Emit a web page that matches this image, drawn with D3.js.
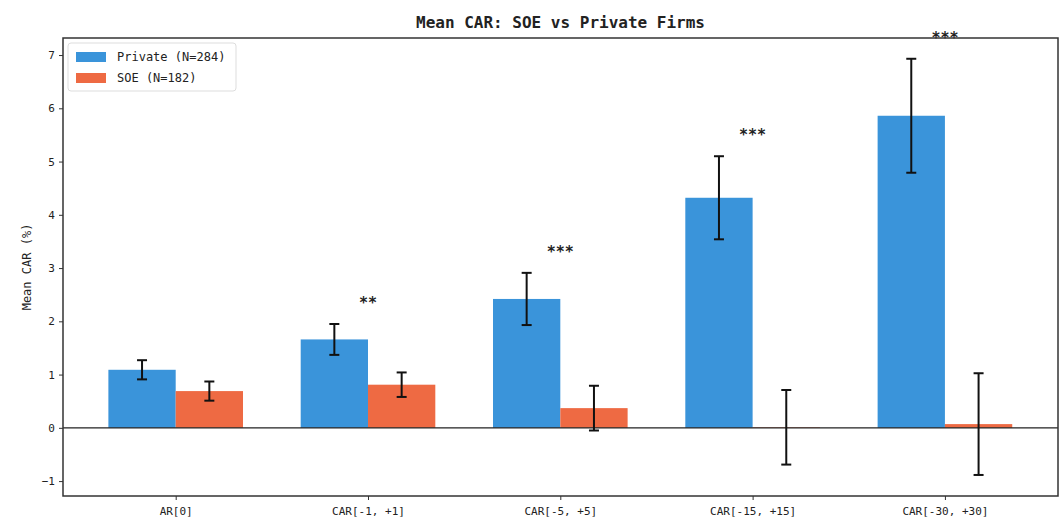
<!DOCTYPE html>
<html>
<head>
<meta charset="utf-8">
<script src="https://cdn.jsdelivr.net/npm/d3@7"></script>
<style>
  html, body { margin: 0; padding: 0; background: #fff; }
  svg text { font-family: "DejaVu Sans Mono", "Liberation Mono", monospace; fill: #222; }
</style>
</head>
<body>
<svg id="chart" width="1061" height="524"></svg>
<script>
// Event windows
const windows = ["AR[0]", "CAR[-1, +1]", "CAR[-5, +5]", "CAR[-15, +15]", "CAR[-30, +30]"];
// Mean CAR (%) and error half-widths per group
const privateMean = [1.09, 1.66, 2.42, 4.32, 5.86];
const privateErr  = [0.18, 0.29, 0.49, 0.78, 1.07];
const soeMean     = [0.69, 0.81, 0.37, 0.01, 0.07];
const soeErr      = [0.18, 0.23, 0.42, 0.70, 0.955];
// Significance of the difference
const stars       = ["", "**", "***", "***", "***"];
const seriesNames = ["Private (N=284)", "SOE (N=182)"];
const yTicks      = [-1, 0, 1, 2, 3, 4, 5, 6, 7];

const colors = ["#3a94da", "#ee6a43"];
const svg = d3.select("#chart");
const m = { left: 63, right: 1058, top: 38, bottom: 496 };

const x = d3.scaleLinear().domain([-0.586, 4.588]).range([m.left, m.right]);
const y = d3.scaleLinear().domain([-1.28, 7.32]).range([m.bottom, m.top]);
const barW = 0.35;

const series = [
  { name: seriesNames[0], mean: privateMean, err: privateErr, off: -barW / 2, color: colors[0] },
  { name: seriesNames[1], mean: soeMean, err: soeErr, off: barW / 2, color: colors[1] }
];

// Bars
series.forEach(s => {
  svg.append("g").selectAll("rect").data(s.mean).join("rect")
    .attr("x", (d, i) => x(i + s.off - barW / 2))
    .attr("width", (d, i) => x(i + s.off + barW / 2) - x(i + s.off - barW / 2))
    .attr("y", d => y(Math.max(0, d)))
    .attr("height", d => Math.abs(y(d) - y(0)))
    .attr("fill", s.color);
});

// Zero reference line
svg.append("line")
  .attr("x1", m.left).attr("x2", m.right)
  .attr("y1", y(0)).attr("y2", y(0))
  .attr("stroke", "#222").attr("stroke-width", 1.3);

// Error bars
series.forEach(s => {
  const g = svg.append("g").attr("stroke", "#111").attr("stroke-width", 2);
  s.mean.forEach((d, i) => {
    const cx = x(i + s.off);
    const top = y(d + s.err[i]), bot = y(d - s.err[i]);
    g.append("line").attr("x1", cx).attr("x2", cx).attr("y1", top).attr("y2", bot);
    g.append("line").attr("x1", cx - 5).attr("x2", cx + 5).attr("y1", top).attr("y2", top);
    g.append("line").attr("x1", cx - 5).attr("x2", cx + 5).attr("y1", bot).attr("y2", bot);
  });
});

// Significance stars above the taller error bar
stars.forEach((st, i) => {
  if (!st) return;
  const topVal = Math.max(privateMean[i] + privateErr[i], soeMean[i] + soeErr[i]);
  svg.append("text")
    .attr("x", x(i)).attr("y", y(topVal + 0.3))
    .attr("text-anchor", "middle")
    .attr("font-size", 15).attr("font-weight", "bold")
    .text(st);
});

// Axes
const xAxis = d3.axisBottom(x).tickValues(d3.range(windows.length))
  .tickFormat(i => windows[i]).tickSize(4).tickSizeOuter(0);
const yAxis = d3.axisLeft(y).tickValues(yTicks).tickSize(4).tickSizeOuter(0);

const gx = svg.append("g").attr("transform", `translate(0,${m.bottom})`).call(xAxis);
gx.select(".domain").remove();
gx.selectAll("text").attr("font-size", 11).attr("dy", "1.05em");
gx.selectAll("line").attr("stroke", "#333");

const gy = svg.append("g").attr("transform", `translate(${m.left},0)`).call(yAxis);
gy.select(".domain").remove();
gy.selectAll("text").attr("font-size", 11).attr("dx", "-0.1em");
gy.selectAll("line").attr("stroke", "#333");

// Frame
svg.append("rect")
  .attr("x", m.left).attr("y", m.top)
  .attr("width", m.right - m.left).attr("height", m.bottom - m.top)
  .attr("fill", "none").attr("stroke", "#333").attr("stroke-width", 1.5);

// Axis label and title
svg.append("text")
  .attr("transform", `translate(31,${(m.top + m.bottom) / 2}) rotate(-90)`)
  .attr("text-anchor", "middle").attr("font-size", 12)
  .text("Mean CAR (%)");

svg.append("text")
  .attr("x", (m.left + m.right) / 2).attr("y", 28)
  .attr("text-anchor", "middle").attr("font-size", 16).attr("font-weight", "bold")
  .text("Mean CAR: SOE vs Private Firms");

// Legend
const lg = svg.append("g").attr("transform", "translate(68,43)");
lg.append("rect").attr("width", 168).attr("height", 48).attr("rx", 3)
  .attr("fill", "#fff").attr("fill-opacity", 0.8).attr("stroke", "#ddd");
series.forEach((s, i) => {
  lg.append("rect").attr("x", 8).attr("y", 9 + i * 21).attr("width", 30).attr("height", 10)
    .attr("fill", s.color);
  lg.append("text").attr("x", 49).attr("y", 18 + i * 21).attr("font-size", 12).text(s.name);
});
</script>
</body>
</html>
